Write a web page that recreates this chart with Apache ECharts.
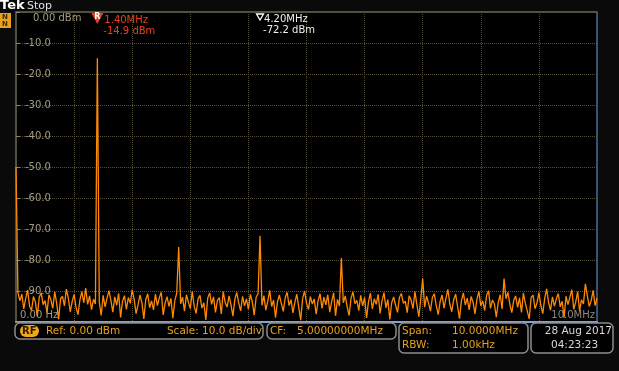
<!DOCTYPE html>
<html><head><meta charset="utf-8">
<script src="https://cdn.jsdelivr.net/npm/echarts@6/dist/echarts.min.js"></script>
<style>html,body{margin:0;padding:0;background:#0a0a0a;}#c{width:619px;height:371px;}</style>
</head><body><div id="c"></div>
<script>
// ---- data ----
const freqStartMHz = 0;
const freqStopMHz = 10;
const yTicks = [0, -10, -20, -30, -40, -50, -60, -70, -80, -90, -100];
// trace levels (dBm), 301 sweep points from 0 to 10 MHz; harmonics included
const traceDbm = [
 -50.0,-90.5,-93.2,-91.0,-95.8,-92.4,-89.7,-94.9,-96.3,-91.8,-93.5,-98.2,-92.0,-90.6,-94.4,-93.1,-97.0,-91.2,-92.8,-95.6,
 -90.3,-93.9,-99.1,-92.5,-91.7,-94.8,-89.4,-92.2,-96.7,-93.4,-91.1,-95.3,-97.6,-92.9,-90.2,-93.8,-89.1,-94.3,-91.6,-96.0,
 -92.7,-94.2,-14.9,-93.6,-97.9,-91.4,-95.1,-92.3,-89.9,-93.0,-96.8,-91.9,-94.6,-90.8,-98.5,-93.3,-91.5,-95.9,-92.1,-94.0,
 -89.6,-92.6,-97.3,-94.5,-91.3,-93.7,-99.0,-92.8,-90.9,-95.4,-93.2,-96.1,-91.0,-94.7,-92.2,-90.4,-97.7,-93.9,-91.8,-95.0,
 -92.4,-98.8,-93.1,-90.7,-75.8,-94.1,-92.0,-96.5,-91.2,-93.6,-95.7,-90.1,-94.9,-97.2,-92.6,-91.4,-95.5,-93.8,-99.3,-92.3,
 -90.6,-94.3,-91.9,-96.9,-93.0,-92.1,-97.4,-90.2,-93.7,-95.2,-91.6,-94.4,-98.1,-92.7,-90.5,-93.9,-96.4,-91.7,-94.8,-92.5,
 -95.9,-91.1,-93.4,-97.8,-92.0,-90.8,-72.2,-94.6,-91.5,-96.2,-93.3,-89.8,-95.0,-92.9,-98.6,-93.5,-91.3,-94.0,-96.6,-92.2,
 -90.4,-94.7,-92.8,-97.1,-93.6,-91.0,-95.3,-99.4,-92.4,-90.0,-93.9,-96.0,-91.8,-94.2,-92.6,-97.5,-93.1,-90.9,-95.6,-92.0,
 -94.5,-91.2,-96.8,-93.4,-90.6,-98.0,-92.7,-94.9,-79.4,-93.8,-91.6,-95.1,-97.9,-92.3,-90.3,-94.1,-93.0,-96.3,-91.4,-94.8,
 -92.1,-98.7,-93.5,-90.7,-95.8,-92.5,-94.3,-91.1,-97.2,-93.2,-90.5,-95.4,-92.8,-99.2,-93.7,-91.9,-94.6,-96.9,-92.0,-90.8,
 -94.0,-93.3,-97.0,-91.5,-92.9,-95.7,-90.2,-94.4,-98.3,-92.6,-86.0,-95.2,-91.7,-93.8,-96.5,-92.1,-90.9,-94.7,-97.6,-93.4,
 -91.3,-95.5,-92.4,-89.5,-94.2,-96.7,-92.8,-91.0,-95.0,-98.9,-93.1,-90.6,-94.5,-92.3,-96.1,-91.8,-93.6,-97.4,-92.7,-90.1,
 -94.8,-93.2,-96.3,-91.4,-89.9,-95.6,-92.9,-94.1,-98.4,-93.7,-91.2,-95.8,-86.0,-92.5,-90.4,-94.3,-97.0,-93.0,-91.6,-95.3,
 -92.2,-96.9,-90.7,-94.0,-93.5,-99.0,-92.1,-91.3,-95.7,-93.9,-90.5,-94.6,-97.3,-92.4,-89.3,-93.8,-96.2,-91.9,-94.9,-92.6,
 -90.8,-95.1,-93.3,-98.6,-91.7,-94.4,-92.0,-89.6,-95.9,-93.6,-90.2,-96.4,-92.8,-94.2,-87.7,-91.5,-95.0,-93.1,-89.8,-94.7,
 -92.3
];
// cursors
const markerR = {freq: 1.40, label: '1.40MHz', level: '-14.9 dBm'};
const markerD = {freq: 4.20, label: '4.20MHz', level: '-72.2 dBm'};
// readouts
const refText = 'Ref: 0.00 dBm';
const scaleText = 'Scale: 10.0 dB/div';
const cfText = '5.00000000MHz';
const spanText = '10.0000MHz';
const rbwText = '1.00kHz';
const dateText = '28 Aug 2017';
const timeText = '04:23:23';

const step = (freqStopMHz - freqStartMHz) / (traceDbm.length - 1);
const traceData = traceDbm.map((v, i) => [freqStartMHz + i * step, v]);

const FONT = 'DejaVu Sans';
const ORANGE = '#e6a01e';
const GRIDC = '#545039';

const chart = echarts.init(document.getElementById('c'), null, {renderer: 'canvas'});
chart.setOption({
  backgroundColor: '#0a0a0a',
  animation: false,
  grid: {left: 16, right: 22, top: 12, bottom: 49, show: true, backgroundColor: '#000',
         borderColor: '#4a6f9a', borderWidth: 1.5},
  xAxis: {type: 'value', min: freqStartMHz, max: freqStopMHz, interval: 1,
    axisLine: {show: true, onZero: false, lineStyle: {color: '#7ea6d6', width: 2}},
    axisTick: {show: false}, axisLabel: {show: false},
    splitLine: {show: true, lineStyle: {color: GRIDC, type: [1, 1], width: 1}}},
  yAxis: {type: 'value', min: -100, max: 0, interval: 10,
    axisLine: {show: false},
    axisTick: {show: true, inside: true, length: 4, lineStyle: {color: '#8a8670'}},
    axisLabel: {inside: true, margin: 9, color: '#a29d84', fontFamily: FONT, fontSize: 10,
      formatter: v => (v === 0 || v === -100) ? '' : v.toFixed(1)},
    splitLine: {show: true, lineStyle: {color: GRIDC, type: [1, 1], width: 1}}},
  series: [{type: 'line', data: traceData, showSymbol: false, z: 5,
    lineStyle: {color: '#ff8a00', width: 1.3}}]
});

function px(f, v) { return chart.convertToPixel({gridIndex: 0}, [f, v]); }
const pR = px(markerR.freq, 0);
const pD = px(markerD.freq, 0);
const p0 = px(freqStartMHz, -100);
const p1 = px(freqStopMHz, -100);
const pTop = px(freqStartMHz, 0);

function txt(x, y, s, color, size, extra) {
  return Object.assign({type: 'text', x: x, y: y, z: 20,
    style: {text: s, fill: color, font: (size || 10.5) + 'px "' + FONT + '"', textVerticalAlign: 'middle'}}, extra || {});
}
function box(x, y, w, h) {
  return {type: 'rect', z: 15, shape: {x: x, y: y, width: w, height: h, r: 5},
    style: {fill: '#000', stroke: '#8c8c8c', lineWidth: 1.5}};
}

chart.setOption({graphic: [
  // header
  txt(0, 6, 'Tek', '#ffffff', 13, {style: {text: 'Tek', fill: '#fff', font: 'bold 13px "' + FONT + '"', textVerticalAlign: 'middle'}}),
  txt(27, 6, 'Stop', '#e0e0e0', 11),
  {type: 'rect', z: 15, shape: {x: 0, y: 13, width: 11, height: 15}, style: {fill: '#e8a020'}},
  txt(2, 17, 'N', '#3a2a00', 7, {style: {text: 'N', fill: '#3a2a00', font: 'bold 7px "' + FONT + '"', textVerticalAlign: 'middle'}}),
  txt(2, 24, 'N', '#3a2a00', 7, {style: {text: 'N', fill: '#3a2a00', font: 'bold 7px "' + FONT + '"', textVerticalAlign: 'middle'}}),
  // axis readouts
  txt(pTop[0] + 17, pTop[1] + 6, '0.00 dBm', '#a29d84', 10),
  txt(p0[0] + 4, p0[1] - 7, '0.00 Hz', '#a29d84', 10),
  txt(p1[0] - 2, p1[1] - 7, '10.0MHz', '#8d8a7c', 10, {style: {text: '10.0MHz', fill: '#8d8a7c', font: '10px "' + FONT + '"', textVerticalAlign: 'middle', textAlign: 'right'}}),
  // R marker
  {type: 'polygon', z: 20, shape: {points: [[pR[0] - 6, pR[1] + 1], [pR[0] + 6, pR[1] + 1], [pR[0], pR[1] + 12]]}, style: {fill: '#e8401c'}},
  txt(pR[0] - 3, pR[1] + 5, 'R', '#fff', 8, {style: {text: 'R', fill: '#fff', font: 'bold 8px "' + FONT + '"', textVerticalAlign: 'middle'}}),
  txt(pR[0] + 7, pR[1] + 8, markerR.label, '#e8401c', 10),
  txt(pR[0] + 6, pR[1] + 19, markerR.level, '#e8401c', 10),
  // delta marker
  {type: 'polygon', z: 20, shape: {points: [[pD[0] - 3.5, pD[1] + 2], [pD[0] + 3.5, pD[1] + 2], [pD[0], pD[1] + 8]]}, style: {fill: 'none', stroke: '#fff', lineWidth: 1.3}},
  txt(pD[0] + 4, pD[1] + 7, markerD.label, '#f0f0f0', 10),
  txt(pD[0] + 3, pD[1] + 18, markerD.level, '#f0f0f0', 10),
  // info boxes
  box(15, 323, 248, 16),
  box(267, 323, 129, 16),
  box(399, 323, 129, 30),
  box(531, 323, 82, 30),
  {type: 'rect', z: 18, shape: {x: 20, y: 325, width: 19, height: 12, r: 6}, style: {fill: '#f0a818'}},
  txt(22, 331.5, 'RF', '#2a1a00', 10, {style: {text: 'RF', fill: '#2a1a00', font: 'bold 10px "' + FONT + '"', textVerticalAlign: 'middle'}}),
  txt(46, 331.5, refText, ORANGE, 10.5),
  txt(262, 331.5, scaleText, ORANGE, 10.5, {style: {text: scaleText, fill: ORANGE, font: '10.5px "' + FONT + '"', textVerticalAlign: 'middle', textAlign: 'right'}}),
  txt(270, 331.5, 'CF:', ORANGE, 10.5),
  txt(297, 331.5, cfText, ORANGE, 10.5),
  txt(402, 331.5, 'Span:', ORANGE, 10.5),
  txt(452, 331.5, spanText, ORANGE, 10.5),
  txt(402, 345.5, 'RBW:', ORANGE, 10.5),
  txt(452, 345.5, rbwText, ORANGE, 10.5),
  txt(612, 331.5, dateText, '#d8d8d8', 10.5, {style: {text: dateText, fill: '#d8d8d8', font: '10.5px "' + FONT + '"', textVerticalAlign: 'middle', textAlign: 'right'}}),
  txt(551, 345.5, timeText, '#d8d8d8', 10.5)
]});
</script></body></html>
